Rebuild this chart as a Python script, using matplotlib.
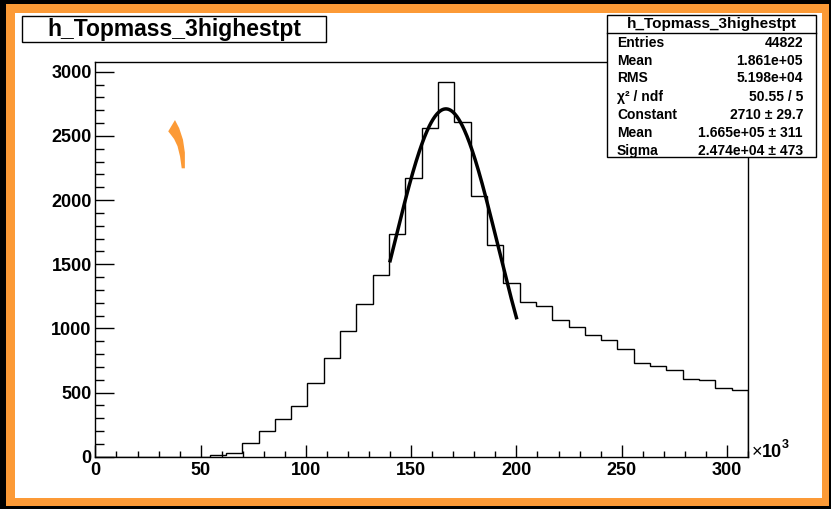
import numpy as np
import matplotlib
matplotlib.use("Agg")
import matplotlib.pyplot as plt
from matplotlib.patches import Rectangle, Polygon
from matplotlib.lines import Line2D

plt.rcParams['font.family'] = ['Liberation Sans', 'DejaVu Sans']
plt.rcParams['font.weight'] = 'bold'

# histogram: 40 bins from 0 to 310 (x 10^3)
bin_lo, bin_hi, n_bins = 0, 310, 40
counts = [0, 0, 0, 0, 0, 0, 0, 15, 28, 109,
          200, 291, 393, 572, 767, 977, 1188, 1416, 1733, 2174,
          2559, 2922, 2611, 2031, 1650, 1351, 1203, 1177, 1068, 1011,
          946, 907, 837, 728, 707, 673, 608, 595, 533, 522]

# gaussian fit result (x in units of 10^3)
fit_const, fit_mean, fit_sigma = 2710, 166.5, 24.74
fit_range = (140, 200)

stat_keys = ["Entries", "Mean", "RMS", "\u03c7\u00b2 / ndf", "Constant", "Mean", "Sigma"]
stat_vals = ["44822", "1.861e+05", "5.198e+04", "50.55 / 5",
             "2710 \u00b1 29.7", "1.665e+05 \u00b1 311", "2.474e+04 \u00b1 473"]
hist_name = "h_Topmass_3highestpt"

# stray orange mark on the pad
blob_x = [37.8, 39.8, 41.6, 42.5, 42.5, 41.0, 40.2, 39.0, 37.4, 35.8, 34.6]
blob_y = [2623, 2560, 2470, 2370, 2247, 2247, 2340, 2420, 2475, 2510, 2535]

W, H = 831, 509
orange = '#fc9a36'

def fx(px):
    return px / W

def fy(py):
    return 1 - py / H

fig = plt.figure(figsize=(W / 100, H / 100), dpi=100, facecolor='black')

# canvas frame
fig.patches.append(Rectangle((fx(6), fy(506)), fx(829) - fx(6), fy(4) - fy(506),
                             transform=fig.transFigure, facecolor=orange, edgecolor='none', zorder=-3))
fig.patches.append(Rectangle((fx(15), fy(498)), fx(822) - fx(15), fy(13) - fy(498),
                             transform=fig.transFigure, facecolor='white', edgecolor='none', zorder=-2))

ax = fig.add_axes([fx(95.4), fy(456.7), fx(748) - fx(95.4), fy(62.3) - fy(456.7)])
ax.set_zorder(1)
ax.set_facecolor('white')

edges = np.linspace(bin_lo, bin_hi, n_bins + 1)
ax.stairs(counts, edges, color='black', lw=1.0)

xf = np.linspace(fit_range[0], fit_range[1], 200)
yf = fit_const * np.exp(-0.5 * ((xf - fit_mean) / fit_sigma) ** 2)
ax.plot(xf, yf, color='black', lw=2.5)

ax.add_patch(Polygon(list(zip(blob_x, blob_y)), closed=True, facecolor=orange, edgecolor='none'))

ax.set_xlim(bin_lo, bin_hi)
ax.set_ylim(0, 3073)
ax.set_xticks(np.arange(0, 301, 50))
ax.set_xticks(np.arange(0, 311, 10), minor=True)
ax.set_yticks(np.arange(0, 3001, 500))
ax.set_yticks(np.arange(0, 3001, 100), minor=True)
ax.tick_params(axis='both', which='both', direction='in', top=False, right=False, color='black')
ax.tick_params(axis='y', which='major', length=13.7, width=1, pad=2.7, labelsize=13)
ax.tick_params(axis='y', which='minor', length=6.7, width=1)
ax.tick_params(axis='x', which='major', length=8.4, width=1, pad=3.5, labelsize=13)
ax.tick_params(axis='x', which='minor', length=4.1, width=1)
for lab in ax.get_xticklabels() + ax.get_yticklabels():
    lab.set_fontweight('bold')
for sp in ax.spines.values():
    sp.set_linewidth(1)

# x10^3 exponent
ax.text(1.005, 0.0, "\u00d7", transform=ax.transAxes, fontsize=13, fontweight='normal',
        ha='left', va='baseline')
ax.text(1.021, 0.0, "10", transform=ax.transAxes, fontsize=13, fontweight='bold',
        ha='left', va='baseline')
ax.text(1.052, 0.022, "3", transform=ax.transAxes, fontsize=9, fontweight='bold',
        ha='left', va='baseline')

# title box
fig.patches.append(Rectangle((fx(22), fy(42)), fx(326) - fx(22), fy(16) - fy(42),
                             transform=fig.transFigure, facecolor='white', edgecolor='black',
                             lw=1, zorder=3))
fig.text(fx(174), fy(29.5), hist_name, ha='center', va='center', fontsize=16.5,
         fontweight='bold', zorder=4)

# stats box
fig.patches.append(Rectangle((fx(607), fy(157)), fx(816) - fx(607), fy(15) - fy(157),
                             transform=fig.transFigure, facecolor='white', edgecolor='black',
                             lw=1, zorder=3))
fig.lines.append(Line2D([fx(607), fx(816)], [fy(33), fy(33)], transform=fig.transFigure,
                        color='black', lw=1, zorder=4))
fig.text(fx(711.5), fy(24), hist_name, ha='center', va='center', fontsize=11,
         fontweight='bold', zorder=4)
row_y = [42.7, 61, 78.3, 96.7, 115, 132.7, 150.7]
for k, v, ry in zip(stat_keys, stat_vals, row_y):
    fig.text(fx(617), fy(ry), k, ha='left', va='center', fontsize=10, fontweight='bold', zorder=4)
    fig.text(fx(803), fy(ry), v, ha='right', va='center', fontsize=10, fontweight='bold', zorder=4)

fig.savefig("out.png", dpi=100, facecolor=fig.get_facecolor())
